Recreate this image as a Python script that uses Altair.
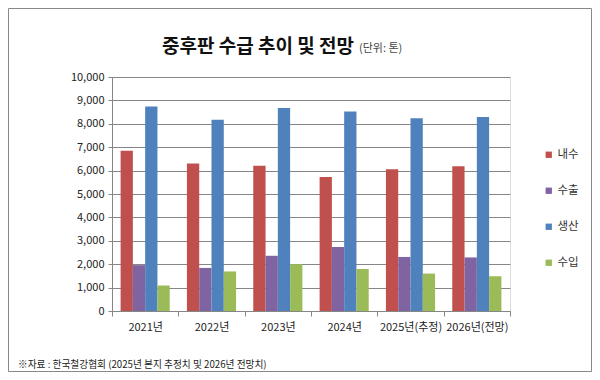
import altair as alt
import pandas as pd

years = ["2021년", "2022년", "2023년", "2024년", "2025년(추정)", "2026년(전망)"]
series = ["내수", "수출", "생산", "수입"]
naesu = [6850, 6300, 6210, 5730, 6060, 6190]
suchul = [1960, 1840, 2360, 2740, 2310, 2290]
saengsan = [8740, 8170, 8670, 8530, 8240, 8290]
suip = [1090, 1690, 2000, 1800, 1600, 1490]
colors = ["#C0504D", "#8064A2", "#4F81BD", "#9BBB59"]
y_ticks = list(range(0, 10001, 1000))

title_text = "중후판 수급 추이 및 전망"
unit_text = "(단위: 톤)"
note_text = "※자료 : 한국철강협회 (2025년 본지 추정치 및 2026년 전망치)"

rows = []
for s, vals in zip(series, [naesu, suchul, saengsan, suip]):
    for y, v in zip(years, vals):
        rows.append({"year": y, "series": s, "value": v})
df = pd.DataFrame(rows)

FONT = "Noto Sans CJK KR"
GRAY = "#868686"

bars = alt.Chart(df).mark_bar().encode(
    x=alt.X("year:N", sort=years,
            scale=alt.Scale(paddingInner=0, paddingOuter=0),
            axis=alt.Axis(title=None, labelAngle=0, tickBand="extent",
                          tickSize=5, labelPadding=5, labelFontSize=11,
                          labelColor="#222222", labelFont=FONT,
                          domainColor=GRAY, tickColor=GRAY, grid=False)),
    xOffset=alt.XOffset("series:N", sort=series,
                        scale=alt.Scale(paddingInner=0, paddingOuter=0.7)),
    y=alt.Y("value:Q", scale=alt.Scale(domain=[0, 10000]),
            axis=alt.Axis(title=None, values=y_ticks, format=",.0f",
                          tickSize=4, labelPadding=4, labelFontSize=11,
                          labelColor="#222222", labelFont=FONT,
                          domainColor=GRAY, tickColor=GRAY,
                          grid=True, gridColor=GRAY, gridWidth=1)),
    color=alt.Color("series:N", sort=series,
                    scale=alt.Scale(domain=series, range=colors),
                    legend=alt.Legend(title=None, orient="none", legendX=431, legendY=72,
                                      symbolType="square", symbolSize=40,
                                      symbolStrokeWidth=0, labelFont=FONT,
                                      labelFontSize=11.5, labelColor="#333333",
                                      rowPadding=23, labelOffset=3)),
)

title = alt.Chart(pd.DataFrame({"t": [title_text]})).mark_text(
    font=FONT, fontSize=19, fontWeight="bold", align="left", baseline="middle",
    color="#111111").encode(text="t:N", x=alt.value(50), y=alt.value(-30))

unit = alt.Chart(pd.DataFrame({"t": [unit_text]})).mark_text(
    font=FONT, fontSize=11, align="left", baseline="middle",
    color="#444444").encode(text="t:N", x=alt.value(247), y=alt.value(-28))

note = alt.Chart(pd.DataFrame({"t": [note_text]})).mark_text(
    font=FONT, fontSize=9.7, align="left", baseline="middle",
    color="#222222").encode(text="t:N", x=alt.value(-94), y=alt.value(288))

frame = alt.Chart(pd.DataFrame({"t": [0]})).mark_rect(
    fillOpacity=0, stroke="#888888", strokeWidth=1).encode(
    x=alt.value(-103.5), x2=alt.value(479.5), y=alt.value(-68.5), y2=alt.value(294.5))

chart = alt.layer(bars, title, unit, note, frame).properties(
    width=398, height=234,
    autosize=alt.AutoSizeParams(type="none"),
    padding={"left": 104, "top": 69, "right": 82, "bottom": 61},
).configure_view(strokeWidth=0).configure(background="white")

chart.save("out.html", embed_options={"renderer": "svg", "actions": False})
